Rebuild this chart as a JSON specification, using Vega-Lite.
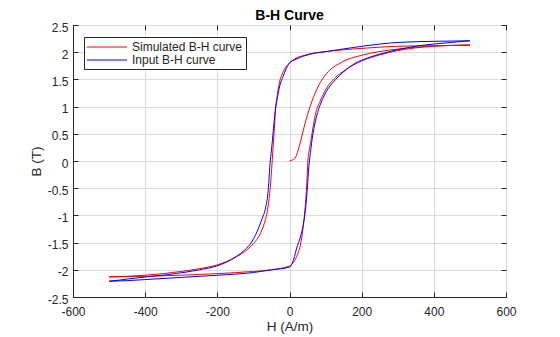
{
  "$schema": "https://vega.github.io/schema/vega-lite/v6.json",
  "width": 433,
  "height": 272,
  "autosize": {"type": "none"},
  "padding": {"left": 73, "top": 25, "right": 54, "bottom": 40},
  "background": "white",
  "config": {
    "font": "Liberation Sans",
    "view": {"stroke": "#262626", "strokeWidth": 1},
    "axis": {
      "labelFont": "Liberation Sans",
      "titleFont": "Liberation Sans",
      "labelColor": "#262626",
      "titleColor": "#262626",
      "domainColor": "#262626",
      "tickColor": "#262626",
      "gridColor": "#dcdcdc",
      "gridWidth": 1,
      "labelFontSize": 12,
      "titleFontSize": 13.5,
      "titleFontWeight": "normal",
      "tickSize": -5,
      "labelPadding": 10
    }
  },
  "title": {"text": "B-H Curve", "fontSize": 14, "fontWeight": "bold", "color": "#000000", "font": "Liberation Sans", "offset": -2},
  "data": {
    "values": [
      {"series": "Simulated B-H curve", "i": 1, "H": 0, "B": 0},
      {"series": "Simulated B-H curve", "i": 2, "H": 8, "B": 0.02},
      {"series": "Simulated B-H curve", "i": 3, "H": 15, "B": 0.05},
      {"series": "Simulated B-H curve", "i": 4, "H": 24, "B": 0.2},
      {"series": "Simulated B-H curve", "i": 5, "H": 34, "B": 0.45},
      {"series": "Simulated B-H curve", "i": 6, "H": 43, "B": 0.69},
      {"series": "Simulated B-H curve", "i": 7, "H": 57, "B": 1.0},
      {"series": "Simulated B-H curve", "i": 8, "H": 75, "B": 1.31},
      {"series": "Simulated B-H curve", "i": 9, "H": 103, "B": 1.61},
      {"series": "Simulated B-H curve", "i": 10, "H": 140, "B": 1.8},
      {"series": "Simulated B-H curve", "i": 11, "H": 204, "B": 1.95},
      {"series": "Simulated B-H curve", "i": 12, "H": 278, "B": 2.04},
      {"series": "Simulated B-H curve", "i": 13, "H": 350, "B": 2.09},
      {"series": "Simulated B-H curve", "i": 14, "H": 420, "B": 2.12},
      {"series": "Simulated B-H curve", "i": 15, "H": 500, "B": 2.13},
      {"series": "Simulated B-H curve", "i": 16, "H": 400, "B": 2.12},
      {"series": "Simulated B-H curve", "i": 17, "H": 300, "B": 2.11},
      {"series": "Simulated B-H curve", "i": 18, "H": 200, "B": 2.07},
      {"series": "Simulated B-H curve", "i": 19, "H": 156, "B": 2.05},
      {"series": "Simulated B-H curve", "i": 20, "H": 100, "B": 2.01},
      {"series": "Simulated B-H curve", "i": 21, "H": 64, "B": 1.98},
      {"series": "Simulated B-H curve", "i": 22, "H": 40, "B": 1.94},
      {"series": "Simulated B-H curve", "i": 23, "H": 18, "B": 1.89},
      {"series": "Simulated B-H curve", "i": 24, "H": 0, "B": 1.8},
      {"series": "Simulated B-H curve", "i": 25, "H": -9, "B": 1.74},
      {"series": "Simulated B-H curve", "i": 26, "H": -20, "B": 1.6},
      {"series": "Simulated B-H curve", "i": 27, "H": -27, "B": 1.47},
      {"series": "Simulated B-H curve", "i": 28, "H": -33, "B": 1.25},
      {"series": "Simulated B-H curve", "i": 29, "H": -38, "B": 1.0},
      {"series": "Simulated B-H curve", "i": 30, "H": -42, "B": 0.6},
      {"series": "Simulated B-H curve", "i": 31, "H": -45, "B": 0.3},
      {"series": "Simulated B-H curve", "i": 32, "H": -48, "B": 0.0},
      {"series": "Simulated B-H curve", "i": 33, "H": -51, "B": -0.3},
      {"series": "Simulated B-H curve", "i": 34, "H": -55, "B": -0.6},
      {"series": "Simulated B-H curve", "i": 35, "H": -61, "B": -0.9},
      {"series": "Simulated B-H curve", "i": 36, "H": -70, "B": -1.15},
      {"series": "Simulated B-H curve", "i": 37, "H": -82, "B": -1.35},
      {"series": "Simulated B-H curve", "i": 38, "H": -100, "B": -1.52},
      {"series": "Simulated B-H curve", "i": 39, "H": -125, "B": -1.67},
      {"series": "Simulated B-H curve", "i": 40, "H": -150, "B": -1.77},
      {"series": "Simulated B-H curve", "i": 41, "H": -200, "B": -1.91},
      {"series": "Simulated B-H curve", "i": 42, "H": -250, "B": -1.98},
      {"series": "Simulated B-H curve", "i": 43, "H": -300, "B": -2.03},
      {"series": "Simulated B-H curve", "i": 44, "H": -350, "B": -2.07},
      {"series": "Simulated B-H curve", "i": 45, "H": -400, "B": -2.1},
      {"series": "Simulated B-H curve", "i": 46, "H": -450, "B": -2.12},
      {"series": "Simulated B-H curve", "i": 47, "H": -500, "B": -2.13},
      {"series": "Simulated B-H curve", "i": 48, "H": -400, "B": -2.12},
      {"series": "Simulated B-H curve", "i": 49, "H": -300, "B": -2.1},
      {"series": "Simulated B-H curve", "i": 50, "H": -200, "B": -2.07},
      {"series": "Simulated B-H curve", "i": 51, "H": -100, "B": -2.03},
      {"series": "Simulated B-H curve", "i": 52, "H": -50, "B": -2.0},
      {"series": "Simulated B-H curve", "i": 53, "H": 0, "B": -1.93},
      {"series": "Simulated B-H curve", "i": 54, "H": 20, "B": -1.75},
      {"series": "Simulated B-H curve", "i": 55, "H": 30, "B": -1.55},
      {"series": "Simulated B-H curve", "i": 56, "H": 38, "B": -1.2},
      {"series": "Simulated B-H curve", "i": 57, "H": 44, "B": -0.8},
      {"series": "Simulated B-H curve", "i": 58, "H": 48, "B": -0.4},
      {"series": "Simulated B-H curve", "i": 59, "H": 51, "B": 0.0},
      {"series": "Simulated B-H curve", "i": 60, "H": 56, "B": 0.25},
      {"series": "Simulated B-H curve", "i": 61, "H": 60, "B": 0.4},
      {"series": "Simulated B-H curve", "i": 62, "H": 66, "B": 0.65},
      {"series": "Simulated B-H curve", "i": 63, "H": 73, "B": 0.89},
      {"series": "Simulated B-H curve", "i": 64, "H": 85, "B": 1.1},
      {"series": "Simulated B-H curve", "i": 65, "H": 101, "B": 1.32},
      {"series": "Simulated B-H curve", "i": 66, "H": 125, "B": 1.52},
      {"series": "Simulated B-H curve", "i": 67, "H": 156, "B": 1.68},
      {"series": "Simulated B-H curve", "i": 68, "H": 200, "B": 1.84},
      {"series": "Simulated B-H curve", "i": 69, "H": 250, "B": 1.95},
      {"series": "Simulated B-H curve", "i": 70, "H": 300, "B": 2.03},
      {"series": "Simulated B-H curve", "i": 71, "H": 350, "B": 2.08},
      {"series": "Simulated B-H curve", "i": 72, "H": 400, "B": 2.11},
      {"series": "Simulated B-H curve", "i": 73, "H": 450, "B": 2.125},
      {"series": "Simulated B-H curve", "i": 74, "H": 500, "B": 2.13},
      {"series": "Input B-H curve", "i": 1, "H": 500, "B": 2.21},
      {"series": "Input B-H curve", "i": 2, "H": 400, "B": 2.2},
      {"series": "Input B-H curve", "i": 3, "H": 303, "B": 2.18},
      {"series": "Input B-H curve", "i": 4, "H": 250, "B": 2.15},
      {"series": "Input B-H curve", "i": 5, "H": 202, "B": 2.11},
      {"series": "Input B-H curve", "i": 6, "H": 150, "B": 2.06},
      {"series": "Input B-H curve", "i": 7, "H": 110, "B": 2.02},
      {"series": "Input B-H curve", "i": 8, "H": 55, "B": 1.96},
      {"series": "Input B-H curve", "i": 9, "H": 18, "B": 1.87},
      {"series": "Input B-H curve", "i": 10, "H": 0, "B": 1.8},
      {"series": "Input B-H curve", "i": 11, "H": -9, "B": 1.7},
      {"series": "Input B-H curve", "i": 12, "H": -18, "B": 1.55},
      {"series": "Input B-H curve", "i": 13, "H": -27, "B": 1.38},
      {"series": "Input B-H curve", "i": 14, "H": -33, "B": 1.18},
      {"series": "Input B-H curve", "i": 15, "H": -40, "B": 0.9},
      {"series": "Input B-H curve", "i": 16, "H": -45, "B": 0.55},
      {"series": "Input B-H curve", "i": 17, "H": -50, "B": 0.2},
      {"series": "Input B-H curve", "i": 18, "H": -54, "B": -0.05},
      {"series": "Input B-H curve", "i": 19, "H": -57, "B": -0.35},
      {"series": "Input B-H curve", "i": 20, "H": -60, "B": -0.6},
      {"series": "Input B-H curve", "i": 21, "H": -66, "B": -0.85},
      {"series": "Input B-H curve", "i": 22, "H": -77, "B": -1.08},
      {"series": "Input B-H curve", "i": 23, "H": -90, "B": -1.3},
      {"series": "Input B-H curve", "i": 24, "H": -105, "B": -1.49},
      {"series": "Input B-H curve", "i": 25, "H": -125, "B": -1.64},
      {"series": "Input B-H curve", "i": 26, "H": -146, "B": -1.75},
      {"series": "Input B-H curve", "i": 27, "H": -175, "B": -1.86},
      {"series": "Input B-H curve", "i": 28, "H": -202, "B": -1.93},
      {"series": "Input B-H curve", "i": 29, "H": -250, "B": -2.0},
      {"series": "Input B-H curve", "i": 30, "H": -285, "B": -2.04},
      {"series": "Input B-H curve", "i": 31, "H": -340, "B": -2.09},
      {"series": "Input B-H curve", "i": 32, "H": -396, "B": -2.13},
      {"series": "Input B-H curve", "i": 33, "H": -450, "B": -2.17},
      {"series": "Input B-H curve", "i": 34, "H": -500, "B": -2.21},
      {"series": "Input B-H curve", "i": 35, "H": -450, "B": -2.2},
      {"series": "Input B-H curve", "i": 36, "H": -400, "B": -2.18},
      {"series": "Input B-H curve", "i": 37, "H": -300, "B": -2.14},
      {"series": "Input B-H curve", "i": 38, "H": -200, "B": -2.1},
      {"series": "Input B-H curve", "i": 39, "H": -100, "B": -2.05},
      {"series": "Input B-H curve", "i": 40, "H": -50, "B": -2.0},
      {"series": "Input B-H curve", "i": 41, "H": 0, "B": -1.95},
      {"series": "Input B-H curve", "i": 42, "H": 12, "B": -1.8},
      {"series": "Input B-H curve", "i": 43, "H": 20, "B": -1.6},
      {"series": "Input B-H curve", "i": 44, "H": 30, "B": -1.4},
      {"series": "Input B-H curve", "i": 45, "H": 38, "B": -1.18},
      {"series": "Input B-H curve", "i": 46, "H": 45, "B": -0.85},
      {"series": "Input B-H curve", "i": 47, "H": 50, "B": -0.45},
      {"series": "Input B-H curve", "i": 48, "H": 53, "B": -0.15},
      {"series": "Input B-H curve", "i": 49, "H": 58, "B": 0.15},
      {"series": "Input B-H curve", "i": 50, "H": 64, "B": 0.46},
      {"series": "Input B-H curve", "i": 51, "H": 70, "B": 0.68},
      {"series": "Input B-H curve", "i": 52, "H": 78, "B": 0.89},
      {"series": "Input B-H curve", "i": 53, "H": 96, "B": 1.2},
      {"series": "Input B-H curve", "i": 54, "H": 128, "B": 1.5},
      {"series": "Input B-H curve", "i": 55, "H": 150, "B": 1.64},
      {"series": "Input B-H curve", "i": 56, "H": 183, "B": 1.8},
      {"series": "Input B-H curve", "i": 57, "H": 215, "B": 1.89},
      {"series": "Input B-H curve", "i": 58, "H": 248, "B": 1.96},
      {"series": "Input B-H curve", "i": 59, "H": 303, "B": 2.05},
      {"series": "Input B-H curve", "i": 60, "H": 350, "B": 2.11},
      {"series": "Input B-H curve", "i": 61, "H": 400, "B": 2.15},
      {"series": "Input B-H curve", "i": 62, "H": 450, "B": 2.18},
      {"series": "Input B-H curve", "i": 63, "H": 500, "B": 2.21}
    ]
  },
  "layer": [
    {
      "transform": [{"filter": "datum.series === 'Simulated B-H curve'"}],
      "mark": {"type": "line", "strokeWidth": 1, "interpolate": "monotone"},
      "encoding": {
        "x": {"field": "H", "type": "quantitative", "scale": {"domain": [-600, 600], "nice": false},
          "axis": {"values": [-600, -400, -200, 0, 200, 400, 600], "title": "H (A/m)", "titlePadding": 2, "labelPadding": 14, "labelFlush": false, "labelExpr": "replace(format(datum.value, '~g'), '\u2212', '-')"}},
        "y": {"field": "B", "type": "quantitative", "scale": {"domain": [-2.5, 2.5], "nice": false},
          "axis": {"values": [-2.5, -2, -1.5, -1, -0.5, 0, 0.5, 1, 1.5, 2, 2.5], "title": "B (T)", "titlePadding": 4, "labelOffset": 2, "labelFlush": false, "labelExpr": "replace(format(datum.value, '~g'), '\u2212', '-')"}},
        "order": {"field": "i", "type": "quantitative"},
        "color": {"field": "series", "type": "nominal",
          "scale": {"domain": ["Simulated B-H curve", "Input B-H curve"], "range": ["#ff0000", "#0000ff"]},
          "legend": {"title": null, "orient": "none", "legendX": 11, "legendY": 12, "symbolType": "M-3.333,0H3.333", "symbolSize": 144, "symbolStrokeWidth": 1.2, "labelFontSize": 12, "labelFont": "Liberation Sans", "labelColor": "#262626", "strokeColor": "#262626", "fillColor": "white", "padding": 3, "rowPadding": 0, "labelOffset": 31,
            "encode": {"symbols": {"update": {"x": {"value": 20}}}}}}
      }
    },
    {
      "transform": [{"filter": "datum.series === 'Input B-H curve'"}],
      "mark": {"type": "line", "strokeWidth": 1, "interpolate": "monotone"},
      "encoding": {
        "x": {"field": "H", "type": "quantitative", "axis": {"orient": "top", "values": [-600, -400, -200, 0, 200, 400, 600], "labels": false, "title": null, "grid": false, "domain": false}},
        "y": {"field": "B", "type": "quantitative", "axis": {"orient": "right", "values": [-2.5, -2, -1.5, -1, -0.5, 0, 0.5, 1, 1.5, 2, 2.5], "labels": false, "title": null, "grid": false, "domain": false}},
        "order": {"field": "i", "type": "quantitative"},
        "color": {"field": "series", "type": "nominal"}
      }
    }
  ],
  "resolve": {"axis": {"x": "independent", "y": "independent"}}
}
